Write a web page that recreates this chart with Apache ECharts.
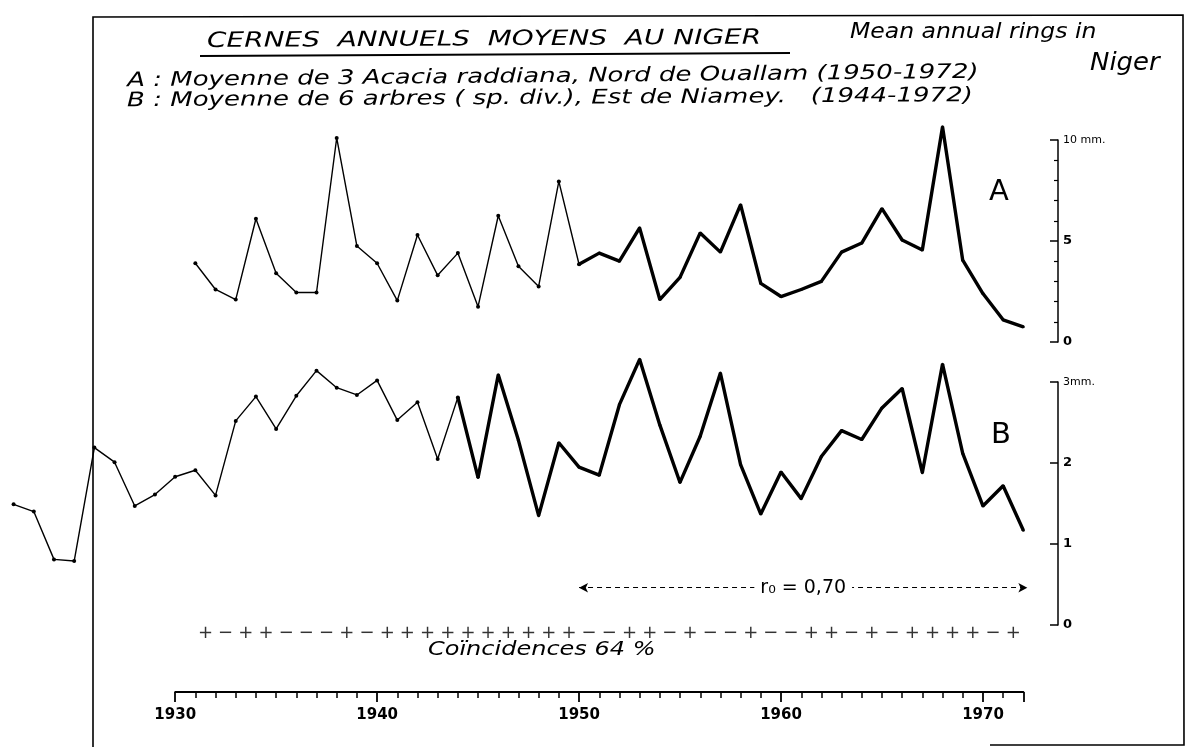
<!DOCTYPE html>
<html>
<head>
<meta charset="utf-8">
<script src="https://cdn.jsdelivr.net/npm/echarts@6/dist/echarts.min.js"></script>
<style>
html,body{margin:0;padding:0;background:#fff}
#chart{width:1187px;height:747px}
</style>
</head>
<body>
<div id="chart"></div>
<script>
// A : Acacia raddiana, Nord de Ouallam (mm)
const yearsA = [1931,1932,1933,1934,1935,1936,1937,1938,1939,1940,1941,1942,1943,1944,1945,1946,1947,1948,1949,1950,
  1951,1952,1953,1954,1955,1956,1957,1958,1959,1960,1961,1962,1963,1964,1965,1966,1967,1968,1969,1970,1971,1972]
const valuesA = [3.9,2.6,2.1,6.1,3.4,2.45,2.45,10.1,4.75,3.9,2.05,5.3,3.3,4.4,1.75,6.25,3.75,2.75,7.95,3.85,
  4.4,4.0,5.65,2.1,3.2,5.4,4.45,6.8,2.9,2.25,2.6,3.0,4.45,4.9,6.6,5.05,4.55,10.65,4.05,2.4,1.1,0.75]
// B : 6 arbres, Est de Niamey (mm)
const yearsB = [1922,1923,1924,1925,1926,1927,1928,1929,1930,1931,1932,1933,1934,1935,1936,1937,1938,1939,1940,1941,
  1942,1943,1944,1945,1946,1947,1948,1949,1950,1951,1952,1953,1954,1955,1956,1957,1958,1959,1960,1961,
  1962,1963,1964,1965,1966,1967,1968,1969,1970,1971,1972]
const valuesB = [1.49,1.40,0.81,0.79,2.19,2.01,1.47,1.61,1.83,1.91,1.60,2.52,2.82,2.42,2.83,3.14,2.93,2.84,3.02,2.53,
  2.75,2.05,2.81,1.82,3.09,2.28,1.35,2.25,1.95,1.85,2.72,3.28,2.47,1.76,2.33,3.11,1.98,1.37,1.89,1.56,
  2.08,2.40,2.29,2.68,2.92,1.88,3.22,2.12,1.47,1.72,1.17]
// coincidence signs, one per year-to-year interval 1931-1972
const signs = ['+','-','+','+','-','-','-','+','-','+','+','+','+','+','+','+','+','+','+','-','-',
  '+','+','-','+','-','-','+','-','-','+','+','-','+','-','+','+','+','+','-','+']
const signYears = [1931.5,1932.5,1933.5,1934.5,1935.5,1936.5,1937.5,1938.5,1939.5,1940.5,1941.5,1942.5,1943.5,1944.5,
  1945.5,1946.5,1947.5,1948.5,1949.5,1950.5,1951.5,1952.5,1953.5,1954.5,1955.5,1956.5,1957.5,1958.5,1959.5,1960.5,
  1961.5,1962.5,1963.5,1964.5,1965.5,1966.5,1967.5,1968.5,1969.5,1970.5,1971.5]
const corrPeriod = [1950, 1972]
const corrLabel = 'r\u2080 = 0,70'
const xTicks = [1930, 1940, 1950, 1960, 1970]

const pairs = (ys, vs, from, to) => ys.map((y, i) => [y, vs[i]]).filter(p => p[0] >= from && p[0] <= to)

const chart = echarts.init(document.getElementById('chart'))
const hand = 'DejaVu Sans'
const xMin = 1921.5, xMax = 1973
const gLeft = 3.5, gWidth = 1040
const ax = {fontFamily: hand, color: '#000'}
const yRich = {n: {fontFamily: hand, fontSize: 13, fontWeight: 'bold', color: '#000'},
  u: {fontFamily: hand, fontSize: 11, color: '#000'}}

const thin = {type: 'line', clip: false, symbol: 'circle', symbolSize: 4, itemStyle: {color: '#000'},
  lineStyle: {color: '#000', width: 1.4}, silent: true, animation: false, z: 3}
const thick = {type: 'line', clip: false, symbol: 'circle', symbolSize: 3, itemStyle: {color: '#000'},
  lineStyle: {color: '#000', width: 3.4}, silent: true, animation: false, z: 3}

chart.setOption({
  animation: false,
  backgroundColor: '#fff',
  grid: [
    {left: gLeft, width: gWidth, top: 140, height: 202},
    {left: gLeft, width: gWidth, top: 382, height: 243},
    {left: 175.2, width: 848.2, top: 600, height: 92}
  ],
  xAxis: [
    {gridIndex: 0, type: 'value', min: xMin, max: xMax, show: false},
    {gridIndex: 1, type: 'value', min: xMin, max: xMax, show: false},
    {gridIndex: 2, type: 'value', min: 1930, max: 1972, interval: 10, position: 'bottom',
      axisLine: {lineStyle: {color: '#000', width: 1.8}},
      axisTick: {show: true, length: 10, lineStyle: {color: '#000', width: 1.8}},
      minorTick: {show: true, splitNumber: 10, length: 6, lineStyle: {color: '#000', width: 1.5}},
      splitLine: {show: false},
      axisLabel: {...ax, fontSize: 15, fontWeight: 'bold', margin: 16,
        formatter: v => xTicks.includes(v) ? String(v) : ''}}
  ],
  yAxis: [
    {gridIndex: 0, type: 'value', min: 0, max: 10, interval: 5, position: 'right', offset: 14.5,
      axisLine: {show: true, lineStyle: {color: '#000', width: 1.5}},
      axisTick: {show: true, inside: true, length: 8, lineStyle: {color: '#000', width: 1.5}},
      minorTick: {show: true, splitNumber: 5, length: 4, lineStyle: {color: '#000', width: 1.2}},
      splitLine: {show: false},
      axisLabel: {margin: 5, rich: yRich, formatter: v => v === 10 ? '{u|10 mm.}' : '{n|' + v + '}'}},
    {gridIndex: 1, type: 'value', min: 0, max: 3, interval: 1, position: 'right', offset: 14.5,
      axisLine: {show: true, lineStyle: {color: '#000', width: 1.5}},
      axisTick: {show: true, inside: true, length: 8, lineStyle: {color: '#000', width: 1.5}},
      splitLine: {show: false},
      axisLabel: {margin: 5, rich: yRich, formatter: v => v === 3 ? '{u|3mm.}' : '{n|' + v + '}'}},
    {gridIndex: 2, type: 'value', min: 0, max: 1, show: false}
  ],
  series: [
    {...thin, name: 'A', xAxisIndex: 0, yAxisIndex: 0, data: pairs(yearsA, valuesA, 1931, 1950)},
    {...thick, name: 'A ', xAxisIndex: 0, yAxisIndex: 0, data: pairs(yearsA, valuesA, 1950, 1972)},
    {...thin, name: 'B', xAxisIndex: 1, yAxisIndex: 1, data: pairs(yearsB, valuesB, 1922, 1944)},
    {...thick, name: 'B ', xAxisIndex: 1, yAxisIndex: 1, data: pairs(yearsB, valuesB, 1944, 1972),
      markLine: {
        silent: true, animation: false,
        symbol: ['arrow', 'arrow'], symbolSize: [7, 9],
        lineStyle: {color: '#000', width: 1, type: [5, 4]},
        label: {show: true, position: 'insideMiddle', formatter: corrLabel, ...ax, fontSize: 19,
          backgroundColor: '#fff', padding: [0, 6]},
        data: [[{coord: [corrPeriod[0], 0.46]}, {coord: [corrPeriod[1] + 0.2, 0.46]}]]
      }},
    {type: 'scatter', xAxisIndex: 1, yAxisIndex: 1, clip: false, silent: true, symbolSize: 2,
      itemStyle: {color: 'rgba(0,0,0,0)'}, animation: false,
      label: {show: true, position: 'inside', ...ax, fontSize: 18,
        formatter: p => signs[p.dataIndex] === '+' ? '+' : '\u2212'},
      data: signYears.map(y => [y, -0.1])}
  ],
  graphic: [
    // frame
    {type: 'polyline', silent: true, shape: {points: [[93, 747], [93, 17], [1183, 15], [1184, 745], [990, 745]]},
      style: {stroke: '#000', lineWidth: 1.6, fill: null}},
    {type: 'text', x: 207, y: 31, scaleX: 1.33, rotation: 0.006, style: {text: 'CERNES  ANNUELS  MOYENS  AU NIGER',
      font: 'italic 21px "DejaVu Sans"', fill: '#000'}},
    {type: 'line', silent: true, shape: {x1: 200, y1: 56, x2: 790, y2: 53}, style: {stroke: '#000', lineWidth: 1.8}},
    {type: 'text', x: 850, y: 22, scaleX: 1.12, style: {text: 'Mean annual rings in', font: 'italic 21px "DejaVu Sans"', fill: '#000'}},
    {type: 'text', x: 1090, y: 52, scaleX: 1.08, style: {text: 'Niger', font: 'italic 24px "DejaVu Sans"', fill: '#000'}},
    {type: 'text', x: 127, y: 71, scaleX: 1.3, rotation: 0.01, style: {text: 'A : Moyenne de 3 Acacia raddiana, Nord de Ouallam (1950-1972)',
      font: 'italic 20px "DejaVu Sans"', fill: '#000'}},
    {type: 'text', x: 127, y: 91, scaleX: 1.3, rotation: 0.006, style: {text: 'B : Moyenne de 6 arbres ( sp. div.), Est de Niamey.   (1944-1972)',
      font: 'italic 20px "DejaVu Sans"', fill: '#000'}},
    {type: 'text', x: 989, y: 178, style: {text: 'A', font: '29px "DejaVu Sans"', fill: '#000'}},
    {type: 'text', x: 991, y: 421, style: {text: 'B', font: '29px "DejaVu Sans"', fill: '#000'}},
    {type: 'text', x: 428, y: 640, scaleX: 1.2, style: {text: 'Co\u00efncidences 64 %', font: 'italic 20px "DejaVu Sans"', fill: '#000'}}
  ]
})
</script>
</body>
</html>
